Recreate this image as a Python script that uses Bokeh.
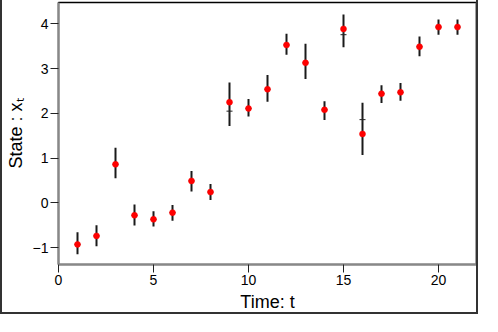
from bokeh.plotting import figure
from bokeh.models import Range1d, FixedTicker, Span
from bokeh.embed import file_html
from bokeh.resources import INLINE

# Data
t = list(range(1, 22))
obs = [-0.93, -0.74, 0.86, -0.28, -0.37, -0.22, 0.49, 0.24, 2.25, 2.11, 2.54,
       3.53, 3.13, 2.08, 3.89, 1.54, 2.44, 2.47, 3.49, 3.93, 3.93]
lo = [-1.15, -0.97, 0.55, -0.51, -0.53, -0.40, 0.25, 0.06, 1.72, 1.93, 2.26,
      3.31, 2.77, 1.85, 3.48, 1.07, 2.23, 2.28, 3.28, 3.76, 3.76]
hi = [-0.66, -0.50, 1.23, -0.04, -0.19, -0.05, 0.71, 0.42, 2.69, 2.32, 2.86,
      3.78, 3.56, 2.27, 4.21, 2.24, 2.63, 2.68, 3.72, 4.10, 4.10]
est = [-0.93, -0.74, 0.86, -0.28, -0.37, -0.22, 0.49, 0.24, 2.05, 2.11, 2.54,
       3.53, 3.13, 2.08, 3.76, 1.86, 2.44, 2.47, 3.49, 3.93, 3.93]
x_ticks = [0, 5, 10, 15, 20]
y_ticks = [-1, 0, 1, 2, 3, 4]
y_tick_labels = {-1: "\u22121", 0: "0", 1: "1", 2: "2", 3: "3", 4: "4"}

FONT = "Liberation Sans"

p = figure(width=478, height=314, output_backend="svg", toolbar_location=None,
           x_range=Range1d(0, 22), y_range=Range1d(-1.38, 4.48),
           min_border_left=51, min_border_right=4, min_border_top=2,
           min_border_bottom=45)
p.styles = {"border-left": "2px solid #333", "border-right": "2px solid #333",
            "border-bottom": "2px solid #333"}

p.xgrid.visible = False
p.ygrid.visible = False
p.outline_line_color = "black"
p.outline_line_width = 1.5

p.add_layout(Span(location=22, dimension="height", line_color="#888888", line_width=2))

p.segment(x0=t, y0=lo, x1=t, y1=hi, line_color="#1a1a1a", line_width=2)
p.scatter(t, est, marker="cross", size=6, line_color="#222222", line_width=1)
p.scatter(t, obs, size=6, fill_color="red", line_color="red", line_width=0.5)

for ax in (p.xaxis[0], p.yaxis[0]):
    ax.axis_line_color = "#888888"
    ax.axis_line_width = 2
    ax.major_tick_line_color = "#222222"
    ax.major_tick_out = 8
    ax.major_tick_in = 0
    ax.minor_tick_line_color = None
    ax.major_label_text_font = FONT
    ax.major_label_text_font_size = "14px"
    ax.major_label_text_color = "black"
    ax.axis_label_text_font = FONT
    ax.axis_label_text_font_size = "18px"
    ax.axis_label_text_font_style = "normal"
    ax.axis_label_text_color = "black"
    ax.major_label_standoff = 2
    ax.axis_label_standoff = 4

p.xaxis.ticker = FixedTicker(ticks=x_ticks)
p.yaxis.ticker = FixedTicker(ticks=y_ticks)
p.yaxis.major_label_overrides = y_tick_labels
p.xaxis.axis_label = "Time: t"
p.yaxis.axis_label = "State : x\u209c"
p.yaxis.major_label_orientation = "horizontal"

open("out.html", "w").write(file_html(p, INLINE))
